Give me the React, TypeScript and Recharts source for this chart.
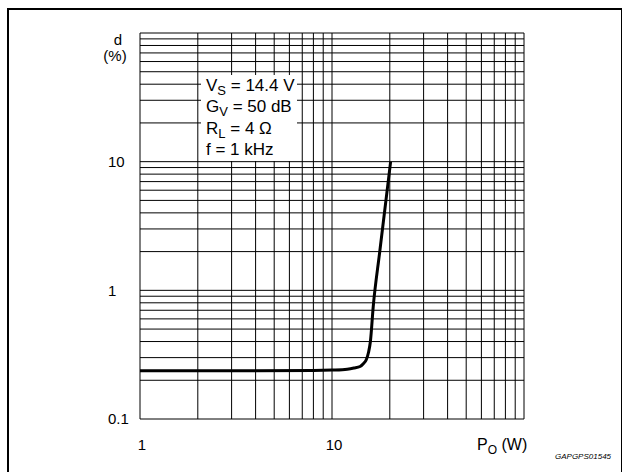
import { LineChart, Line, XAxis, YAxis, CartesianGrid } from "recharts";

// output power (W) and distortion (%)
const P_W = [1, 4, 8, 10, 12, 13, 14, 14.6, 15.1, 15.5, 15.85, 16.4, 17.7, 20.2];
const D_PCT = [0.237, 0.237, 0.238, 0.24, 0.244, 0.249, 0.256, 0.27, 0.29, 0.33, 0.4, 0.75, 1.96, 10];

const X_TICKS = [1, 2, 3, 4, 5, 6, 7, 8, 9, 10, 20, 30, 40, 50, 60, 70, 80, 90, 100];
const Y_TICKS = [
  0.1, 0.2, 0.3, 0.4, 0.5, 0.6, 0.7, 0.8, 0.9,
  1, 2, 3, 4, 5, 6, 7, 8, 9,
  10, 20, 30, 40, 50, 60, 70, 80, 90, 100,
];
const X_LABELS = [1, 10];
const Y_LABELS = [0.1, 1, 10];

const CONDITIONS = [
  { name: "V", sub: "S", value: " = 14.4 V" },
  { name: "G", sub: "V", value: " = 50 dB" },
  { name: "R", sub: "L", value: " = 4 Ω" },
  { name: "f", sub: "", value: " = 1 kHz" },
];

const data = P_W.map((p, i) => ({ p, d: D_PCT[i] }));

const FONT = "'Liberation Sans', Arial, Helvetica, sans-serif";

const XTick = (props: any) => {
  const { x, y, payload } = props;
  if (!X_LABELS.includes(payload.value)) return <g />;
  return (
    <text x={x + 2} y={y + 26} dy="0.35em" textAnchor="middle" fontSize={15} fill="#000" fontFamily={FONT}>
      {payload.value}
    </text>
  );
};

const YTick = (props: any) => {
  const { x, y, payload } = props;
  if (!Y_LABELS.includes(payload.value)) return <g />;
  return (
    <text x={x - 32} y={y} dy="0.35em" textAnchor="start" fontSize={15} fill="#000" fontFamily={FONT}>
      {payload.value}
    </text>
  );
};

const sub = (size: number) => ({ position: "relative" as const, top: 4, fontSize: size, lineHeight: 0 });

export default function App() {
  return (
    <div style={{ position: "absolute", left: 0, top: 0, width: 622, height: 472, background: "#fff", fontFamily: FONT, overflow: "hidden" }}>
      <div
        style={{
          position: "absolute", left: 7, top: 8, width: 615, height: 470, boxSizing: "border-box",
          borderTop: "2px solid #000", borderLeft: "2px solid #000", borderRight: "1px solid #000",
        }}
      />
      <LineChart width={622} height={472} data={data} margin={{ top: 33, right: 98, bottom: 13, left: 100 }}>
        <CartesianGrid stroke="#000" strokeWidth={1} />
        <XAxis
          dataKey="p" type="number" scale="log" domain={[1, 100]} ticks={X_TICKS} interval={0}
          height={40} axisLine={false} tickLine={false} tickSize={0} tickMargin={0} tick={XTick} allowDataOverflow
        />
        <YAxis
          dataKey="d" type="number" scale="log" domain={[0.1, 100]} ticks={Y_TICKS} interval={0}
          width={40} axisLine={false} tickLine={false} tickSize={0} tickMargin={0} tick={YTick} allowDataOverflow
        />
        <Line type="monotone" dataKey="d" stroke="#000" strokeWidth={3} dot={false} isAnimationActive={false} />
      </LineChart>

      <div style={{ position: "absolute", left: 110, top: 31, width: 16, textAlign: "center", fontSize: 15 }}>d</div>
      <div style={{ position: "absolute", left: 100, top: 47, width: 30, textAlign: "center", fontSize: 15 }}>(%)</div>

      <div style={{ position: "absolute", left: 201, top: 75, width: 96, height: 86, background: "#fff", fontSize: 17, lineHeight: "21.3px", paddingLeft: 5, boxSizing: "border-box" }}>
        {CONDITIONS.map((c) => (
          <div key={c.name} style={{ whiteSpace: "nowrap", height: 21.3 }}>
            {c.name}
            {c.sub && <span style={sub(13)}>{c.sub}</span>}
            {c.value}
          </div>
        ))}
      </div>

      <div style={{ position: "absolute", left: 477, top: 436, fontSize: 16, whiteSpace: "nowrap" }}>
        P<span style={sub(12)}>O</span> (W)
      </div>
      <div style={{ position: "absolute", left: 555, top: 452, fontSize: 8, fontStyle: "italic", whiteSpace: "nowrap" }}>
        GAPGPS01545
      </div>
    </div>
  );
}
